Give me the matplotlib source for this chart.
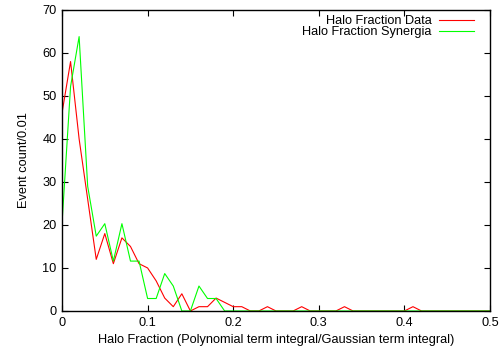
import matplotlib
matplotlib.use("Agg")
import matplotlib.pyplot as plt
from matplotlib.ticker import FormatStrFormatter, MultipleLocator

plt.rcParams["font.family"] = ["Liberation Sans", "DejaVu Sans"]

# bin positions of the halo fraction histogram (bin width 0.01)
halo_fraction = [
    0.00, 0.01, 0.02, 0.03, 0.04, 0.05, 0.06, 0.07, 0.08, 0.09,
    0.10, 0.11, 0.12, 0.13, 0.14, 0.15, 0.16, 0.17, 0.18, 0.19,
    0.20, 0.21, 0.22, 0.23, 0.24, 0.25, 0.26, 0.27, 0.28, 0.29,
    0.30, 0.31, 0.32, 0.33, 0.34, 0.35, 0.36, 0.37, 0.38, 0.39,
    0.40, 0.41, 0.42, 0.43, 0.44, 0.45, 0.46, 0.47, 0.48, 0.49,
    0.50,
]

counts_data = [
    46, 58, 40, 26, 12, 18, 11, 17, 15, 11,
    10, 7, 3, 1, 4, 0, 1, 1, 3, 2,
    1, 1, 0, 0, 1, 0, 0, 0, 1, 0,
    0, 0, 0, 1, 0, 0, 0, 0, 0, 0,
    0, 1, 0, 0, 0, 0, 0, 0, 0, 0,
    0,
]

counts_synergia = [
    20.3, 52.2, 63.8, 29.0, 17.4, 20.3, 11.6, 20.3, 11.6, 11.6,
    2.9, 2.9, 8.7, 5.8, 0, 0, 5.8, 2.9, 2.9, 0,
    0, 0, 0, 0, 0, 0, 0, 0, 0, 0,
    0, 0, 0, 0, 0, 0, 0, 0, 0, 0,
    0, 0, 0, 0, 0, 0, 0, 0, 0, 0,
    0,
]

FS = 9.2

fig = plt.figure(figsize=(5.0, 3.55), dpi=100)
ax = fig.add_axes([0.124, 0.124, 0.856, 0.848])

ax.plot(halo_fraction, counts_data, color="#ff0000", lw=0.8, label="Halo Fraction Data")
ax.plot(halo_fraction, counts_synergia, color="#00ff00", lw=0.8, label="Halo Fraction Synergia")

ax.set_xlim(0, 0.5)
ax.set_ylim(0, 70)
ax.xaxis.set_major_locator(MultipleLocator(0.1))
ax.yaxis.set_major_locator(MultipleLocator(10))
ax.xaxis.set_major_formatter(FormatStrFormatter("%g"))
ax.yaxis.set_major_formatter(FormatStrFormatter("%g"))
ax.tick_params(direction="in", top=True, right=True, length=4, width=0.8,
               labelsize=FS, pad=4)
for spine in ax.spines.values():
    spine.set_linewidth(1.0)

ax.set_xlabel("Halo Fraction (Polynomial term integral/Gaussian term integral)", fontsize=FS, labelpad=4)
ax.set_ylabel("Event count/0.01", fontsize=FS, labelpad=9)

# key sits in the top right corner, labels right aligned before the samples
ax.legend(loc="upper right", bbox_to_anchor=(0.974, 1.0), frameon=False,
          markerfirst=False, fontsize=FS, handlelength=2.7, handletextpad=0.6,
          labelspacing=-0.05, borderaxespad=0.2, borderpad=0.2)

fig.savefig("out.png", dpi=100)
